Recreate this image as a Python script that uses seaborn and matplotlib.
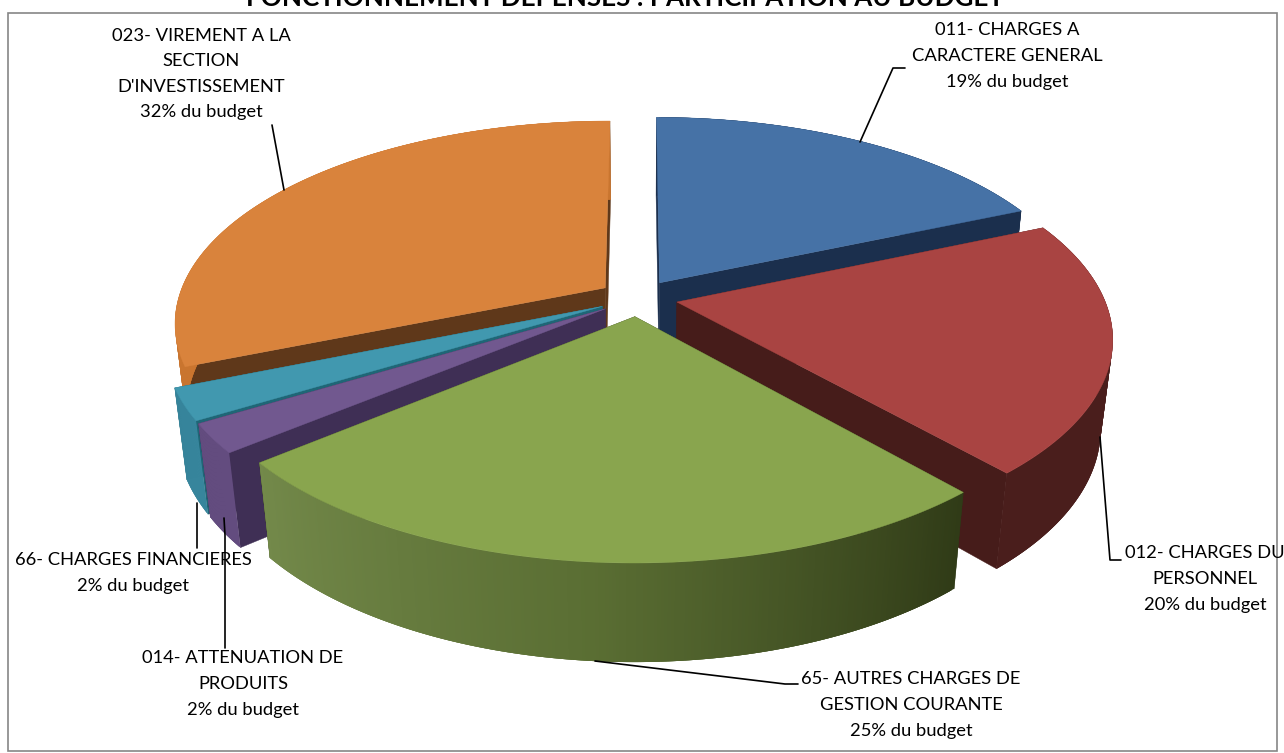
import numpy as np
import matplotlib
matplotlib.use('Agg')
import matplotlib.pyplot as plt
import seaborn as sns
from matplotlib.patches import Rectangle

# slices, clockwise from 12 o'clock
names = ['011- CHARGES A\nCARACTERE GENERAL', '012- CHARGES DU\nPERSONNEL',
         '65- AUTRES CHARGES DE\nGESTION COURANTE', '014- ATTENUATION DE\nPRODUITS',
         '66- CHARGES FINANCIERES', "023- VIREMENT A LA\nSECTION\nD'INVESTISSEMENT"]
# labels as printed, and the slice sizes as they look on the picture
label_pct = [19, 20, 25, 2, 2, 32]
shares = [18.5, 20.0, 25.5, 2.3, 2.5, 31.2]
title = 'FONCTIONNEMENT DEPENSES : PARTICIPATION AU BUDGET'

top_colors = ['#4672A6', '#A94442', '#89A54E', '#71588F', '#4198AF', '#D9833C']
radial_colors = ['#1B2F4D', '#461C1A', '#2F3A17', '#3F2F55', '#1F6676', '#5F381A']
outer_colors = [['#1B2F4D'], ['#4A1E1C'], ['#303B17', '#5A6E33', '#73894A'],
                ['#634C7F'], ['#37859C'], ['#C9752F']]

# label centre, then leader line points
label_xy = [(1007, 56), (1205, 579), (911, 705), (243, 684), (133, 573), (201, 74)]
leaders = [[(905, 68), (893, 68), (860, 142)],
           [(1121, 560), (1110, 560), (1100, 437)],
           [(798, 684), (785, 684), (595, 661)],
           [(225, 648), (225, 535), (224, 518)],
           [(197, 548), (197, 503)],
           [(272, 125), (284, 190)]]

# projection settings
cx, cy = 638, 298
rx, ry = 427, 198
persp = 0.168
persp_z = 0.025
depth = 90
explode = 0.093


def project(u, v, z=0):
    d = 1 - persp * v + persp_z * z
    return cx + rx * u / d, cy + (ry * v + depth * z) / d


def wedge_pts(a0, a1, n=120):
    t = np.linspace(a0, a1, n)
    mid = (a0 + a1) / 2
    ou, ov = explode * np.sin(mid), -explode * np.cos(mid)
    return np.sin(t) + ou, -np.cos(t) + ov, ou, ov


sns.set_theme(style='white')
plt.rcParams['font.family'] = ['Lato', 'DejaVu Sans']

fig = plt.figure(figsize=(12.84, 7.53), dpi=100)
ax = fig.add_axes([0, 0, 1, 1])
ax.set_xlim(0, 1284)
ax.set_ylim(753, 0)
ax.axis('off')

ax.add_patch(Rectangle((8, 13), 1269, 738, fill=False, ec='#868686', lw=1.2))

edges = np.cumsum([0] + shares) / sum(shares) * 2 * np.pi
# back slices first
order = [5, 0, 1, 4, 3, 2]
for rank, i in enumerate(order):
    a0, a1 = edges[i], edges[i + 1]
    u, v, ou, ov = wedge_pts(a0, a1, 40 + int(shares[i]) * 8)
    z = 2 + rank

    # radial walls
    for j in (0, -1):
        xs, ys = zip(*[project(ou, ov, 0), project(u[j], v[j], 0),
                       project(u[j], v[j], 1), project(ou, ov, 1)])
        ax.fill(xs, ys, color=radial_colors[i], lw=0.3, zorder=z)

    # outer wall, in overlapping strips so it can shade across
    pal = sns.blend_palette(outer_colors[i] * (2 if len(outer_colors[i]) == 1 else 1), len(u))
    for j in range(len(u) - 1):
        k = min(j + 3, len(u) - 1)
        xs, ys = zip(*[project(u[j], v[j], 0), project(u[k], v[k], 0),
                       project(u[k], v[k], 1), project(u[j], v[j], 1)])
        ax.fill(xs, ys, facecolor=pal[j], edgecolor='none', lw=0, zorder=z)

    # top face
    xs, ys = project(np.r_[ou, u], np.r_[ov, v])
    ax.fill(xs, ys, color=top_colors[i], lw=0.3, zorder=z + 0.5)

for pts in leaders:
    xs, ys = zip(*pts)
    ax.plot(xs, ys, color='black', lw=1.2, zorder=20)

for name, pct, (x, y) in zip(names, label_pct, label_xy):
    ax.text(x, y, f'{name}\n{pct}% du budget', ha='center', va='center',
            fontsize=13.2, color='black', linespacing=1.74, zorder=30)

ax.text(625, 6, title, ha='center', va='baseline', fontsize=18.7, fontweight='bold',
        color='black', zorder=30)

fig.savefig('out.png', dpi=100, facecolor='white')
